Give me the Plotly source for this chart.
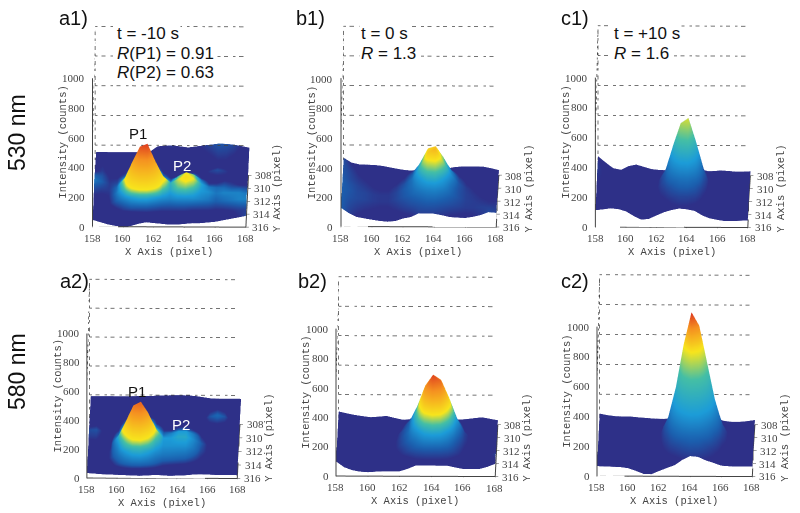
import math
import plotly.graph_objects as go

x_cols = [158, 158.5, 159, 159.5, 160, 160.5, 161, 161.5, 162, 162.5, 163, 163.5, 164, 164.5, 165, 165.5, 166, 166.5, 167, 167.5, 168]
y_rows = [308, 309, 310, 311, 312, 313, 314, 315, 316]
x_ticks = [158, 160, 162, 164, 166, 168]
y_ticks = [308, 310, 312, 314, 316]
z_ticks = [0, 200, 400, 600, 800, 1000]
wall_levels = [200, 400, 600, 800, 1000]

a1_z = [
[22,22,22,22,22,22,22,25,62,66,69,62,55,62,69,75,82,80,75,65,55],
[60,65,60,50,45,50,70,75,65,55,50,50,50,50,50,55,60,60,55,50,45],
[65,70,60,55,60,90,135,140,95,60,55,55,60,60,55,70,78,70,60,55,50],
[85,80,65,65,80,140,210,215,150,85,65,75,95,90,65,55,55,60,60,60,55],
[95,85,70,75,110,200,295,310,205,115,90,125,150,135,95,70,70,75,70,65,65],
[75,70,70,90,150,260,365,385,270,170,120,145,165,150,115,95,90,90,85,85,80],
[60,60,65,95,130,190,230,235,190,135,115,130,135,125,110,105,95,100,100,100,95],
[50,50,60,85,100,115,125,125,115,105,100,105,105,105,100,95,85,90,95,100,100],
[45,35,40,55,70,80,80,80,75,70,70,70,70,65,65,65,62,62,65,70,72],
[45,30,15,5,0,5,20,30,25,20,15,15,20,25,25,30,35,45,55,65,75],
]
b1_z = [
[92,60,48,46,44,38,28,18,10,8,8,8,10,15,30,35,36,36,35,25,12],
[105,70,55,50,45,40,30,25,25,30,45,55,60,50,35,30,30,30,30,25,20],
[110,85,65,55,50,45,40,40,50,70,110,145,150,120,75,50,40,35,35,30,30],
[115,95,75,65,55,50,50,55,70,105,170,240,250,195,120,75,55,45,40,35,35],
[120,100,85,75,65,60,60,70,90,130,215,310,325,250,160,100,70,60,50,45,45],
[125,110,95,85,75,70,70,85,110,145,225,325,350,262,175,115,85,70,60,55,55],
[125,115,100,95,85,80,80,95,120,140,180,225,235,195,145,110,90,80,70,65,65],
[125,110,100,95,85,80,80,95,115,130,145,160,165,150,130,110,90,85,80,75,75],
[125,100,85,75,70,65,65,75,90,105,115,125,125,115,105,95,85,85,90,90,85],
[126,90,65,55,46,38,33,38,55,65,90,90,88,78,66,62,60,68,80,100,95],
]
c1_z = [
[105,60,25,15,40,50,35,20,15,12,10,10,10,10,8,8,12,10,5,5,8],
[125,85,45,30,40,50,40,30,25,35,55,70,75,60,35,20,20,15,15,15,15],
[140,110,65,45,50,55,50,40,40,70,130,180,190,140,70,35,25,20,20,20,20],
[150,120,80,60,60,60,60,60,70,120,230,340,360,260,120,55,35,30,30,30,30],
[145,125,90,70,70,65,65,75,100,170,330,480,515,355,175,80,50,40,35,35,35],
[135,125,100,80,70,70,70,90,125,200,370,520,555,395,205,100,60,45,40,40,40],
[125,125,110,90,80,70,75,95,130,185,290,390,410,310,175,100,65,50,45,45,45],
[120,130,125,105,85,75,75,90,120,150,195,240,250,205,140,95,65,50,45,45,45],
[115,130,135,115,90,70,65,75,100,120,145,165,165,150,115,85,60,48,42,42,45],
[112,118,125,120,105,75,50,55,78,100,115,125,120,110,80,60,50,42,42,45,46],
]
a2_z = [
[27,27,27,27,27,27,28,30,30,32,34,36,36,34,30,22,14,12,12,12,12],
[30,30,30,30,32,40,50,55,45,35,32,32,32,32,32,34,52,60,52,32,30],
[38,40,35,30,35,60,100,110,80,45,35,35,36,36,34,34,38,40,38,32,30],
[50,52,40,32,45,95,170,185,130,70,45,45,55,55,45,36,34,34,34,32,30],
[45,45,38,36,65,150,265,285,205,110,65,75,90,90,70,45,35,34,34,32,30],
[35,36,36,40,100,205,315,342,262,150,90,90,100,100,80,55,40,36,35,32,30],
[30,30,35,45,80,140,200,210,170,110,85,85,85,85,70,50,40,35,33,32,30],
[30,30,32,45,65,90,110,115,100,80,70,68,65,62,52,42,36,33,32,32,30],
[30,28,30,35,48,60,70,72,65,55,45,42,40,38,35,33,32,32,32,32,30],
[34,30,26,24,22,20,18,16,18,22,20,16,18,20,25,28,26,24,24,24,22],
]
b2_z = [
[64,52,41,33,26,30,35,22,10,8,8,8,8,8,10,12,15,22,28,18,8],
[72,60,48,40,35,38,42,35,30,35,45,60,65,65,50,30,28,30,32,25,18],
[80,68,55,48,42,42,45,48,55,80,120,180,195,190,135,70,42,36,35,30,25],
[85,72,62,55,50,50,50,55,75,115,195,310,345,335,245,125,65,45,40,35,30],
[90,78,68,60,55,55,55,65,95,150,255,395,470,435,315,175,90,60,45,40,35],
[95,80,72,65,60,58,60,75,120,160,270,420,510,470,345,215,120,80,55,45,42],
[98,82,75,68,62,60,65,85,125,165,240,345,390,375,285,180,115,80,60,50,50],
[98,84,75,68,62,60,65,85,120,155,190,240,265,255,205,145,100,75,65,60,65],
[98,85,70,60,55,52,55,70,95,125,150,170,175,170,150,115,85,68,65,80,120],
[99,60,40,30,26,30,33,33,33,50,72,72,72,72,72,60,50,50,50,65,86],
]
c2_z = [
[62,52,45,44,43,38,34,30,28,26,24,22,20,18,15,12,10,10,10,15,23],
[68,58,50,48,46,42,38,35,35,40,50,70,85,85,65,40,25,18,15,18,25],
[72,62,54,50,48,46,42,40,45,75,130,230,300,280,185,90,45,28,20,22,28],
[75,68,60,54,52,50,46,48,60,120,250,470,600,560,370,180,85,40,28,28,32],
[78,72,64,58,55,52,50,55,85,180,360,640,840,770,520,280,130,65,38,34,36],
[75,72,68,60,55,52,50,60,105,222,425,710,925,835,590,345,170,85,50,40,40],
[72,68,66,62,58,52,50,60,100,195,350,560,700,660,480,285,150,85,50,42,42],
[70,65,62,62,58,52,50,55,90,150,245,355,430,410,305,190,110,70,50,45,45],
[68,62,55,58,55,48,42,48,75,110,150,195,225,215,170,125,85,62,52,50,52],
[66,64,62,60,53,35,15,13,35,55,74,110,135,130,107,90,72,68,66,66,66],
]

band_colors = ["#2e3088", "#1b5fae", "#1c9cd8", "#45bfa5", "#f7e51d", "#f59120", "#dc3220"]

panels = [
    dict(name="a1", z=a1_z, back=305.0, left=91, width=156, base=229, k=0.151, du=6.6, levels=[65, 85, 110, 128, 150, 300, 395]),
    dict(name="b1", z=b1_z, back=307.5, left=339, width=158, base=229, k=0.151, du=6.6, levels=[70, 125, 190, 235, 290, 400, 520]),
    dict(name="c1", z=c1_z, back=307.5, left=594, width=155, base=229, k=0.152, du=6.6, levels=[130, 200, 320, 440, 580, 750, 1000]),
    dict(name="a2", z=a2_z, back=304.5, left=86, width=153, base=480, k=0.147, du=6.9, levels=[42, 55, 90, 120, 150, 280, 400]),
    dict(name="b2", z=b2_z, back=307.5, left=334, width=162, base=478, k=0.150, du=6.6, levels=[100, 150, 215, 260, 310, 430, 530]),
    dict(name="c2", z=c2_z, back=307.8, left=595, width=158, base=478, k=0.152, du=6.6, levels=[110, 200, 340, 540, 700, 830, 930]),
]

W, H = 800, 513
SW, SH = 230, 230
ELEV = math.radians(15)
LEAN = 0.05
YAW = LEAN * math.sin(ELEV)
PX = 117.0
EYE = 2.47
INK = "#444444"
DASH = dict(color="#444444", width=1.5, dash="longdashdot")
TICK = dict(family="Liberation Serif", size=11, color=INK)
TITLE = dict(family="Liberation Mono", size=10.5, color=INK)

fig = go.Figure()
for n, p in enumerate(panels):
    sid = "scene" if n == 0 else f"scene{n+1}"
    rows = [p["back"]] + y_rows
    lo, hi = p["levels"][0], p["levels"][-1]
    scale = [[(l - lo) / (hi - lo), c] for l, c in zip(p["levels"], band_colors)]
    fig.add_trace(go.Surface(
        x=x_cols, y=rows, z=p["z"], scene=sid, colorscale=scale, cmin=lo, cmax=hi,
        showscale=False, hoverinfo="skip",
        lighting=dict(ambient=1, diffuse=0, specular=0, roughness=1, fresnel=0),
    ))
    for lv in wall_levels:
        fig.add_trace(go.Scatter3d(x=[158, 168], y=[308, 308], z=[lv, lv], mode="lines", scene=sid,
                                   hoverinfo="skip", showlegend=False, line=DASH))
    fig.add_trace(go.Scatter3d(x=[158, 158], y=[308, 308], z=[0, 1000], mode="lines", scene=sid,
                               hoverinfo="skip", showlegend=False, line=DASH))
    fig.add_trace(go.Scatter3d(x=[158, 158], y=[316, 308], z=[600, 1000], mode="lines", scene=sid,
                               hoverinfo="skip", showlegend=False, line=DASH))
    solid = dict(color=INK, width=2)
    fig.add_trace(go.Scatter3d(x=[158, 168], y=[316, 316], z=[0, 0], mode="lines", scene=sid,
                               hoverinfo="skip", showlegend=False, line=solid))
    fig.add_trace(go.Scatter3d(x=[158, 158], y=[316, 316], z=[0, 1000], mode="lines", scene=sid,
                               hoverinfo="skip", showlegend=False, line=solid))
    fig.add_trace(go.Scatter3d(x=[168, 168], y=[316, 308], z=[0, 0], mode="lines", scene=sid,
                               hoverinfo="skip", showlegend=False, line=solid))
    span = 316 - p["back"]
    cx = p["left"] + p["width"] / 2 + 1.5
    cy = p["base"] - p["k"] * 500 - p["du"] * span / 2
    anns = []
    for t in x_ticks:
        anns.append(dict(x=t, y=316, z=0, text=str(t), showarrow=False, yshift=-11, font=TICK))
    for t in z_ticks:
        anns.append(dict(x=158, y=316, z=t, text=str(t), showarrow=False, xanchor="right", xshift=-5, font=TICK))
    for t in y_ticks:
        anns.append(dict(x=168, y=t, z=0, text=str(t), showarrow=False, xanchor="left", xshift=5, font=TICK))
    anns.append(dict(x=163, y=316, z=0, text="X Axis (pixel)", showarrow=False, yshift=-25, font=TITLE))
    anns.append(dict(x=158, y=316, z=500, text="Intensity (counts)", showarrow=False, xshift=-29, yshift=10, textangle=-90, font=TITLE))
    anns.append(dict(x=168, y=312, z=0, text="Y Axis (pixel)", showarrow=False, xshift=31, yshift=13, textangle=-90, font=TITLE))
    ax = dict(showgrid=False, showbackground=False, zeroline=False, showspikes=False,
              showticklabels=False, title="", ticks="outside", ticklen=3, tickcolor=INK, showline=False)
    fig.update_layout(**{sid: dict(
        domain=dict(x=[(cx - SW / 2) / W, (cx + SW / 2) / W],
                    y=[1 - (cy + SH / 2) / H, 1 - (cy - SH / 2) / H]),
        xaxis=dict(ax, range=[158, 168], tickvals=x_ticks),
        yaxis=dict(ax, range=[316, p["back"]], tickvals=y_ticks),
        zaxis=dict(ax, range=[0, 1000], tickvals=z_ticks),
        aspectmode="manual",
        aspectratio=dict(x=p["width"] / PX, y=span * p["du"] / math.sin(ELEV) / PX,
                         z=1000 * p["k"] / math.cos(ELEV) / PX),
        camera=dict(projection=dict(type="orthographic"),
                    eye=dict(x=math.sin(YAW) * math.cos(ELEV) * EYE,
                             y=-math.cos(YAW) * math.cos(ELEV) * EYE,
                             z=math.sin(ELEV) * EYE),
                    up=dict(x=0, y=0, z=1)),
        annotations=anns,
    )})

labels = [
    ("a1)", 73, 18), ("b1)", 310, 18), ("c1)", 575, 18),
    ("a2)", 74, 281), ("b2)", 312, 281), ("c2)", 575, 281),
]
notes = [
    ("t = -10 s", 115, 33), ("<i>R</i>(P1) = 0.91", 115, 53), ("<i>R</i>(P2) = 0.63", 115, 72),
    ("t = 0 s", 359, 33), ("<i>R</i> = 1.3", 359, 53),
    ("t = +10 s", 612, 33), ("<i>R</i> = 1.6", 612, 53),
]
peaks = [
    ("P1", 138, 133, "#111111"), ("P2", 182, 165, "#ffffff"),
    ("P1", 137, 391, "#111111"), ("P2", 181, 424, "#ffffff"),
]
sides = [("530 nm", 17, 133), ("580 nm", 17, 372)]
SANS = "Liberation Sans"
ann = []
for t, x, y in labels:
    ann.append(dict(text=t, x=x / W, y=1 - y / H, xref="paper", yref="paper", showarrow=False,
                    xanchor="center", yanchor="middle", font=dict(family=SANS, size=20, color="#111111")))
for t, x, y in notes:
    ann.append(dict(text=t, x=x / W, y=1 - y / H, xref="paper", yref="paper", showarrow=False,
                    xanchor="left", yanchor="middle", bgcolor="#ffffff",
                    font=dict(family=SANS, size=17, color="#111111")))
for t, x, y, c in peaks:
    ann.append(dict(text=t, x=x / W, y=1 - y / H, xref="paper", yref="paper", showarrow=False,
                    xanchor="center", yanchor="middle", font=dict(family=SANS, size=15, color=c)))
for t, x, y in sides:
    ann.append(dict(text=t, x=x / W, y=1 - y / H, xref="paper", yref="paper", showarrow=False, textangle=-90,
                    xanchor="center", yanchor="middle", font=dict(family=SANS, size=23, color="#111111")))

fig.update_layout(width=W, height=H, margin=dict(l=0, r=0, t=0, b=0, autoexpand=False), paper_bgcolor="white",
                  showlegend=False, annotations=ann)
fig.write_html("out.html", config=dict(displayModeBar=False),
               post_script="document.body.style.margin='0';document.documentElement.style.overflow='hidden';")
